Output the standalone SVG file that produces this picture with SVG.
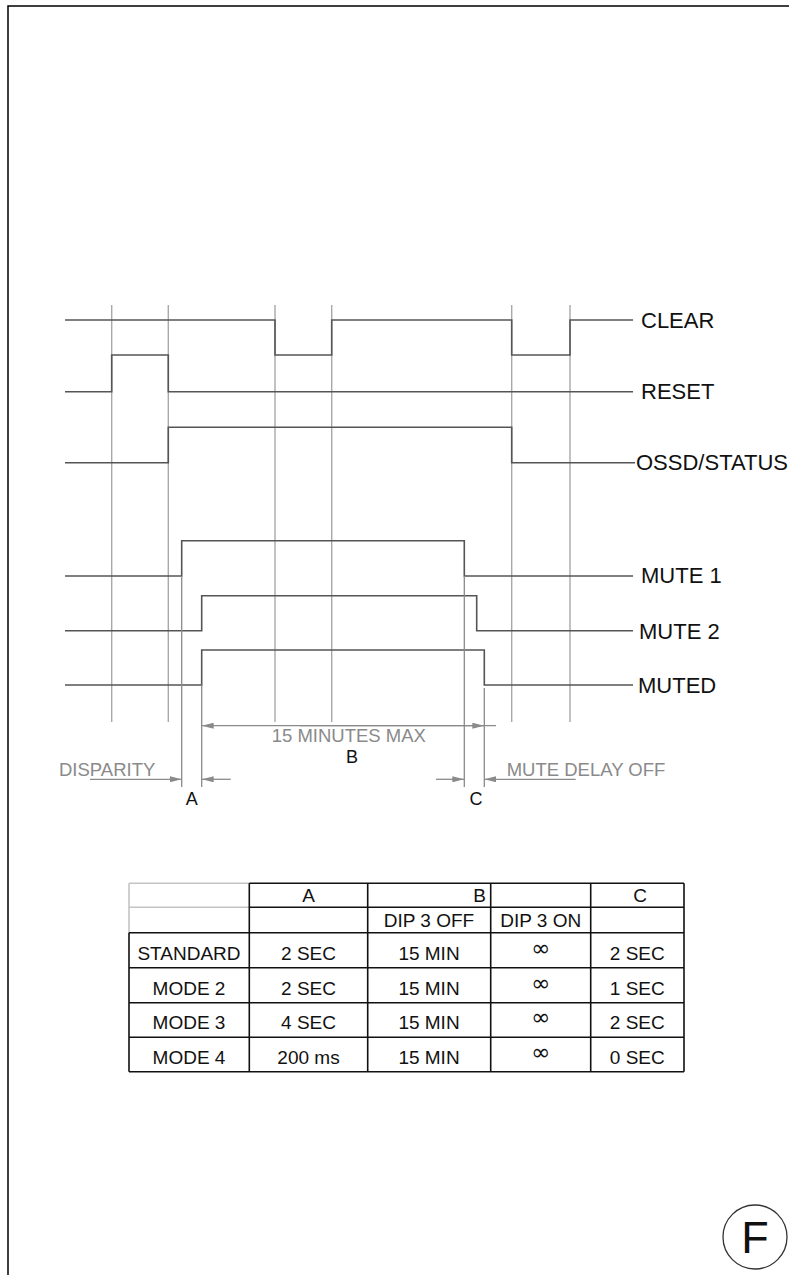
<svg xmlns="http://www.w3.org/2000/svg" width="789" height="1275" viewBox="0 0 789 1275">
<style>
.frame{fill:none;stroke:#000;stroke-width:1.5}
.sig{fill:none;stroke:#555;stroke-width:1.6}
.grid{fill:none;stroke:#a8a8a8;stroke-width:1.4}
.dim{fill:none;stroke:#8a8a8a;stroke-width:1.3}
.lbl{font-family:"Liberation Sans",Arial,sans-serif;font-size:22px;fill:#111}
.gtx{font-family:"Liberation Sans",Arial,sans-serif;font-size:18.5px;fill:#8a8a8a}
.btx{font-family:"Liberation Sans",Arial,sans-serif;font-size:18px;fill:#111}
.tb{fill:none;stroke:#111;stroke-width:1.6}
.tg{fill:none;stroke:#c4c4c4;stroke-width:1.6}
.td{font-family:"Liberation Sans",Arial,sans-serif;font-size:19px;fill:#111;text-anchor:middle}
.inf{font-family:"DejaVu Sans",sans-serif;font-size:23px;fill:#111;text-anchor:middle}
.tdr{font-family:"Liberation Sans",Arial,sans-serif;font-size:19px;fill:#111;text-anchor:end}
</style>
<defs>
<marker id="ah" viewBox="0 0 12 6" refX="12" refY="3" markerWidth="12" markerHeight="6" markerUnits="userSpaceOnUse" orient="auto">
<path d="M0,0 L12,3 L0,6 Z" fill="#8a8a8a"/>
</marker>
</defs>
<rect width="789" height="1275" fill="#fff"/>
<path class="frame" d="M8,1275 V6 H789"/>

<g id="grid">
<path class="grid" d="M111.7,305 V722 M168.3,305 V722 M275,305 V722 M331.7,305 V722 M511.7,305 V722 M570,305 V722"/>
</g>

<g id="sig-clear">
<path class="sig" d="M65,320 H275 V355 H331.7 V320 H511.7 V355 H570 V320 H633"/>
<text class="lbl" x="641" y="328">CLEAR</text>
</g>
<g id="sig-reset">
<path class="sig" d="M65,391.7 H111.7 V355 H168.3 V391.7 H633"/>
<text class="lbl" x="641" y="399">RESET</text>
</g>
<g id="sig-ossd">
<path class="sig" d="M65,462.7 H168.3 V427.3 H511.7 V462.7 H635"/>
<text class="lbl" x="636" y="470">OSSD/STATUS</text>
</g>
<g id="sig-mute1">
<path class="sig" d="M65,576 H181.7 V540.7 H464.3 V576 H633"/>
<text class="lbl" x="641" y="583">MUTE 1</text>
</g>
<g id="sig-mute2">
<path class="sig" d="M65,630.7 H201.7 V595.7 H476.7 V630.7 H633"/>
<text class="lbl" x="639" y="639">MUTE 2</text>
</g>
<g id="sig-muted">
<path class="sig" d="M65,685 H201.7 V650 H484.3 V685 H633"/>
<text class="lbl" x="638" y="693">MUTED</text>
</g>

<g id="connectors">
<path class="dim" d="M181.7,576 V787 M201.7,685 V787 M464.3,576 V787 M484.3,688 V787"/>
<path class="dim" d="M496,725.7 H201.7" marker-end="url(#ah)"/>
<path class="dim" d="M300,725.7 H484.3" marker-end="url(#ah)"/>
<path class="dim" d="M90,779.3 H181.7" marker-end="url(#ah)"/>
<path class="dim" d="M230.7,779.3 H201.7" marker-end="url(#ah)"/>
<path class="dim" d="M436,779.3 H464.3" marker-end="url(#ah)"/>
<path class="dim" d="M575.7,779.3 H484.3" marker-end="url(#ah)"/>
</g>

<g id="dim-labels">
<text class="gtx" x="271.7" y="742">15 MINUTES MAX</text>
<text class="btx" x="352" y="763" text-anchor="middle">B</text>
<text class="gtx" x="59" y="776">DISPARITY</text>
<text class="btx" x="191.7" y="805" text-anchor="middle">A</text>
<text class="gtx" x="506.7" y="776">MUTE DELAY OFF</text>
<text class="btx" x="476" y="805" text-anchor="middle">C</text>
</g>

<g id="table">
<path class="tg" d="M129,883.3 H249.3 M129,907.3 H249.3 M129,883.3 V932.7"/>
<path class="tb" d="M249.3,883.3 H684 M249.3,907.3 H684 M129,932.7 H684 M129,967.7 H684 M129,1002.7 H684 M129,1037.3 H684 M129,1071.7 H684"/>
<path class="tb" d="M129,932.7 V1071.7 M249.3,883.3 V1071.7 M367.7,883.3 V1071.7 M490.7,883.3 V1071.7 M590.7,883.3 V1071.7 M684,883.3 V1071.7"/>
<text class="td" x="308.5" y="901.5">A</text>
<text class="tdr" x="486" y="901.5">B</text>
<text class="td" x="640" y="901.5">C</text>
<text class="td" x="429" y="926.7">DIP 3 OFF</text>
<text class="td" x="540.7" y="926.7">DIP 3 ON</text>

<text class="td" x="189" y="960">STANDARD</text>
<text class="td" x="308.5" y="960">2 SEC</text>
<text class="td" x="429" y="960">15 MIN</text>
<text class="inf" x="540.7" y="956">∞</text>
<text class="td" x="637.3" y="960">2 SEC</text>

<text class="td" x="189" y="994.5">MODE 2</text>
<text class="td" x="308.5" y="994.5">2 SEC</text>
<text class="td" x="429" y="994.5">15 MIN</text>
<text class="inf" x="540.7" y="990.5">∞</text>
<text class="td" x="637.3" y="994.5">1 SEC</text>

<text class="td" x="189" y="1029">MODE 3</text>
<text class="td" x="308.5" y="1029">4 SEC</text>
<text class="td" x="429" y="1029">15 MIN</text>
<text class="inf" x="540.7" y="1025">∞</text>
<text class="td" x="637.3" y="1029">2 SEC</text>

<text class="td" x="189" y="1064">MODE 4</text>
<text class="td" x="308.5" y="1064">200 ms</text>
<text class="td" x="429" y="1064">15 MIN</text>
<text class="inf" x="540.7" y="1060">∞</text>
<text class="td" x="637.3" y="1064">0 SEC</text>
</g>

<g id="sheet-mark">
<circle cx="755" cy="1237" r="32" fill="none" stroke="#333" stroke-width="1.3"/>
<text x="755" y="1253" text-anchor="middle" font-family="'Liberation Sans',Arial,sans-serif" font-size="45" fill="#111">F</text>
</g>
</svg>
